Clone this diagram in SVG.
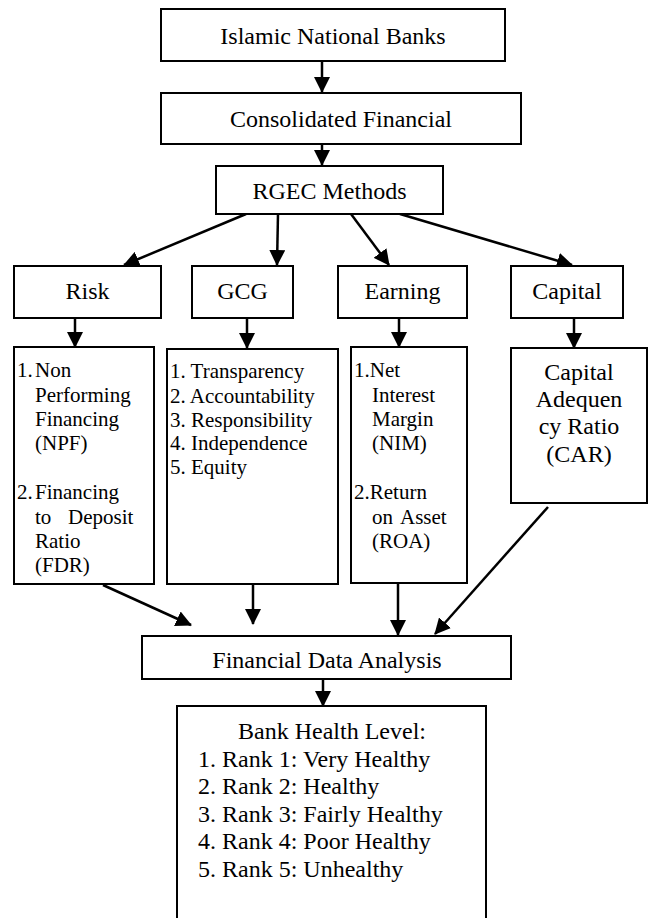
<svg xmlns="http://www.w3.org/2000/svg" width="651" height="918" viewBox="0 0 651 918">
<style>
.box{fill:#fff;stroke:#000;stroke-width:2}
.t{font-family:"Liberation Serif","Times New Roman",serif;font-size:24px;fill:#000}
.s{font-family:"Liberation Serif","Times New Roman",serif;font-size:21px;fill:#000}
.c{text-anchor:middle}
.ln{stroke:#000;stroke-width:2.5;fill:none;marker-end:url(#ah)}
</style>
<defs>
<marker id="ah" markerWidth="16" markerHeight="16" viewBox="0 0 16 16" refX="15" refY="8" orient="auto" markerUnits="userSpaceOnUse">
<path d="M0,0 L16,8 L0,16 Z" fill="#000"/>
</marker>
</defs>
<rect width="651" height="918" fill="#fff"/>
<g id="connectors">
<line class="ln" x1="322" y1="61" x2="322" y2="92"/>
<line class="ln" x1="322" y1="144" x2="322" y2="165"/>
<line class="ln" x1="246" y1="214" x2="124" y2="265"/>
<line class="ln" x1="278" y1="214" x2="277" y2="265"/>
<line class="ln" x1="351" y1="214" x2="389" y2="265"/>
<line class="ln" x1="400" y1="214" x2="572" y2="265"/>
<line class="ln" x1="75" y1="318" x2="75" y2="347"/>
<line class="ln" x1="247" y1="318" x2="247" y2="348"/>
<line class="ln" x1="399" y1="318" x2="399" y2="347"/>
<line class="ln" x1="574" y1="318" x2="574" y2="348"/>
<line class="ln" x1="103" y1="585" x2="191" y2="625"/>
<line class="ln" x1="253" y1="584" x2="253" y2="624"/>
<line class="ln" x1="398" y1="583" x2="398" y2="635"/>
<line class="ln" x1="548" y1="507" x2="435" y2="634"/>
<line class="ln" x1="323" y1="679" x2="323" y2="706"/>
</g>
<g id="islamic">
<rect class="box" x="161" y="9" width="344" height="52"/>
<text class="t c" x="333" y="44">Islamic National Banks</text>
</g>
<g id="consolidated">
<rect class="box" x="161" y="93" width="360" height="51"/>
<text class="t c" x="341" y="127">Consolidated Financial</text>
</g>
<g id="rgec">
<rect class="box" x="216" y="166" width="227" height="48"/>
<text class="t c" x="329.5" y="199">RGEC Methods</text>
</g>
<g id="risk">
<rect class="box" x="14" y="266" width="147" height="52"/>
<text class="t c" x="87.5" y="299">Risk</text>
</g>
<g id="gcg">
<rect class="box" x="192" y="266" width="101" height="52"/>
<text class="t c" x="242.5" y="299">GCG</text>
</g>
<g id="earning">
<rect class="box" x="338" y="266" width="129" height="52"/>
<text class="t c" x="402.5" y="299">Earning</text>
</g>
<g id="capital">
<rect class="box" x="511" y="266" width="112" height="52"/>
<text class="t c" x="567" y="299">Capital</text>
</g>
<g id="risk-list">
<rect class="box" x="14" y="347" width="140" height="237"/>
<text class="s"><tspan x="17" y="377">1.</tspan><tspan x="35" y="377">Non</tspan><tspan x="35" y="402">Performing</tspan><tspan x="35" y="426">Financing</tspan><tspan x="35" y="450">(NPF)</tspan><tspan x="17" y="499">2.</tspan><tspan x="35" y="499">Financing</tspan><tspan x="35" y="524">to</tspan><tspan x="68" y="524">Deposit</tspan><tspan x="35" y="548">Ratio</tspan><tspan x="35" y="572">(FDR)</tspan></text>
</g>
<g id="gcg-list">
<rect class="box" x="167" y="349" width="171" height="235"/>
<text class="s"><tspan x="170" y="378">1. Transparency</tspan><tspan x="170" y="403">2. Accountability</tspan><tspan x="170" y="427">3. Responsibility</tspan><tspan x="170" y="450">4. Independence</tspan><tspan x="170" y="474">5. Equity</tspan></text>
</g>
<g id="earning-list">
<rect class="box" x="351" y="347" width="116" height="236"/>
<text class="s"><tspan x="354" y="377">1.Net</tspan><tspan x="372" y="402">Interest</tspan><tspan x="372" y="426">Margin</tspan><tspan x="372" y="450">(NIM)</tspan><tspan x="354" y="499">2.Return</tspan><tspan x="372" y="524">on</tspan><tspan x="400" y="524">Asset</tspan><tspan x="372" y="548">(ROA)</tspan></text>
</g>
<g id="capital-list">
<rect class="box" x="511" y="348" width="136" height="155"/>
<text class="t c"><tspan x="579" y="380">Capital</tspan><tspan x="579" y="407">Adequen</tspan><tspan x="579" y="434">cy Ratio</tspan><tspan x="579" y="462">(CAR)</tspan></text>
</g>
<g id="fda">
<rect class="box" x="142" y="636" width="369" height="43"/>
<text class="t c" x="327" y="668">Financial Data Analysis</text>
</g>
<g id="health">
<path class="box" d="M177,925 V706 H486 V925"/>
<text class="t"><tspan x="332" y="739" text-anchor="middle">Bank Health Level:</tspan><tspan x="198" y="767">1. Rank 1: Very Healthy</tspan><tspan x="198" y="794">2. Rank 2: Healthy</tspan><tspan x="198" y="822">3. Rank 3: Fairly Healthy</tspan><tspan x="198" y="849">4. Rank 4: Poor Healthy</tspan><tspan x="198" y="877">5. Rank 5: Unhealthy</tspan></text>
</g>
</svg>
